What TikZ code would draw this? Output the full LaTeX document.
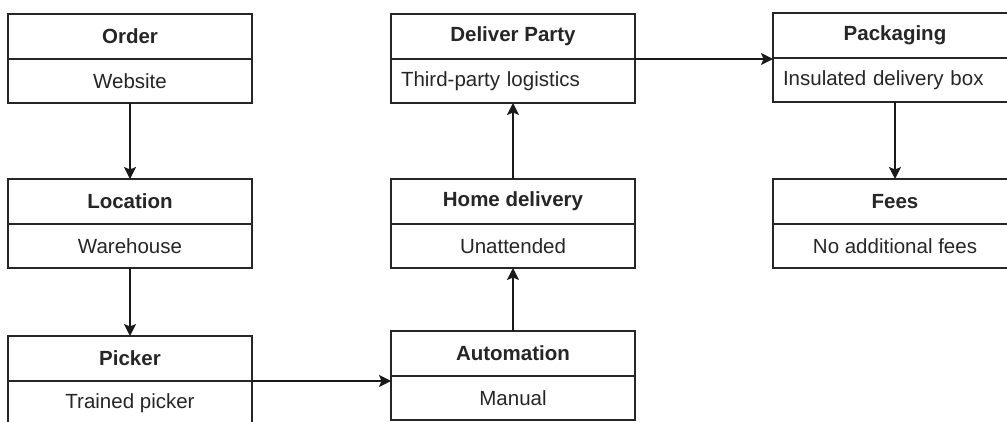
\documentclass[tikz,border=0pt]{standalone}
\usepackage{fontspec}
\setmainfont{Liberation Sans}
\usetikzlibrary{arrows.meta,calc}
\tikzset{
  cell/.style={draw=black!85, line width=1.5pt, minimum width=244pt, inner sep=0pt,
    outer sep=0pt, anchor=north west, text=black!85,
    font=\fontsize{20.5}{24}\selectfont},
  headcell/.style={cell, minimum height=45pt, font=\bfseries\fontsize{20.5}{24}\selectfont},
  bodycell/.style={cell, minimum height=44pt},
  bodyleft/.style={bodycell, text width=224pt, inner xsep=10pt, align=left},
  flow/.style={line width=1.5pt, draw=black!90,
    -{Stealth[length=12pt,width=12pt,inset=2.5pt]}}
}
\begin{document}
\begin{tikzpicture}[x=1pt,y=-1pt]
  \clip (0,0) rectangle (1007,422);
  \fill[white] (0,0) rectangle (1007,422);

  % left column
  \node[headcell] (orderH) at (8,14) {Order};
  \node[bodycell] (orderB) at (orderH.south west) {Website};
  \node[headcell] (locH) at (8,179) {Location};
  \node[bodycell] (locB) at (locH.south west) {Warehouse};
  \node[headcell] (pickH) at (8,336) {Picker};
  \node[bodycell] (pickB) at (pickH.south west) {Trained picker};

  % middle column
  \node[headcell] (dpH) at (391,14) {Deliver Party};
  \node[bodyleft] (dpB) at (dpH.south west) {Third-party logistics};
  \node[headcell] (homeH) at (391,179) {Home delivery};
  \node[bodycell] (homeB) at (homeH.south west) {Unattended};
  \node[headcell] (autoH) at (391,331) {Automation};
  \node[bodycell] (autoB) at (autoH.south west) {Manual};

  % right column
  \node[headcell] (pkH) at (773,13) {Packaging};
  \node[bodyleft] (pkB) at (pkH.south west) {Insulated delivery box};
  \node[headcell] (feesH) at (773,179) {Fees};
  \node[bodycell] (feesB) at (feesH.south west) {No additional fees};

  % connectors
  \draw[flow] (orderB.south) -- (locH.north);
  \draw[flow] (locB.south) -- (pickH.north);
  \draw[flow] (pickH.south east) -- (autoH.west |- pickH.south east);
  \draw[flow] (autoH.north) -- (homeB.south);
  \draw[flow] (homeH.north) -- (dpB.south);
  \draw[flow] (dpH.south east) -- (pkH.west |- dpH.south east);
  \draw[flow] (pkB.south) -- (feesH.north);
\end{tikzpicture}
\end{document}
